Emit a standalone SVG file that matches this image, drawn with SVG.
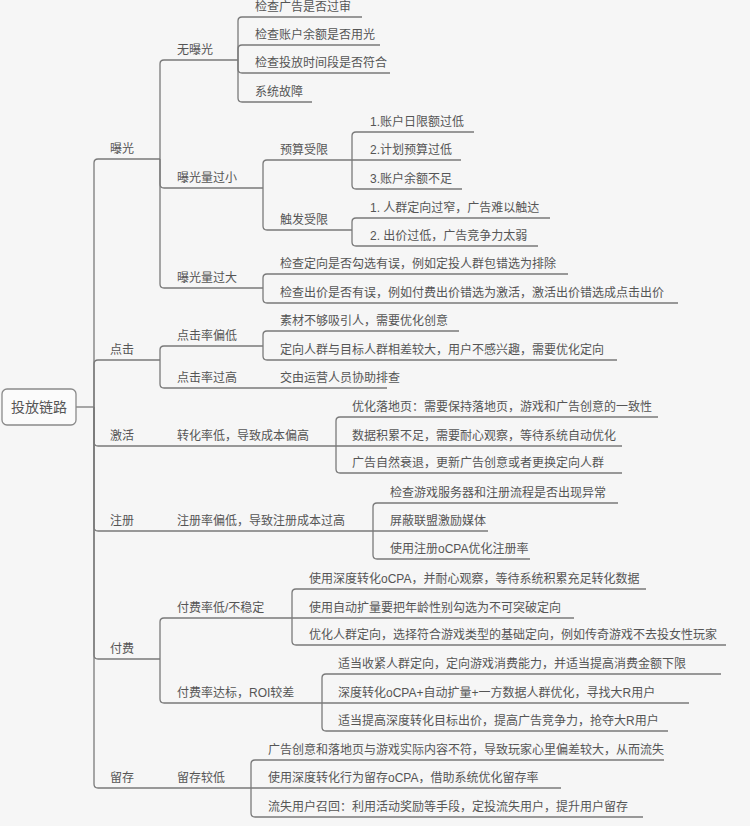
<svg xmlns="http://www.w3.org/2000/svg" width="750" height="826" viewBox="0 0 750 826">
<style>
.c{fill:none;stroke:#7a7a7a;stroke-width:1.3}
text{font-family:"Liberation Sans","Noto Sans CJK SC",sans-serif;font-size:12px;fill:#555}
</style>
<rect width="750" height="826" fill="#f6f6f6"/>
<g id="connectors" class="c">
<path d="M76 407H94"/>
<path d="M94 407V163Q94 159 98 159H160"/>
<path d="M94 407V364Q94 360 98 360H160"/>
<path d="M94 407V442Q94 446 98 446H336"/>
<path d="M94 407V527Q94 531 98 531H373"/>
<path d="M94 407V655Q94 659 98 659H160"/>
<path d="M94 407V784Q94 788 98 788H251"/>
<path d="M160 159V64Q160 60 164 60H238"/>
<path d="M160 159V184Q160 188 164 188H263"/>
<path d="M160 159V284Q160 288 164 288H263"/>
<path d="M238 60V21Q238 17 242 17H362"/>
<path d="M238 60V49Q238 45 242 45H380"/>
<path d="M238 60V69Q238 73 242 73H390"/>
<path d="M238 60V98Q238 102 242 102H312"/>
<path d="M263 188V164Q263 160 267 160H352"/>
<path d="M263 188V226Q263 230 267 230H352"/>
<path d="M352 160V136Q352 132 356 132H474"/>
<path d="M352 160H461"/>
<path d="M352 160V185Q352 189 356 189H462"/>
<path d="M352 230V222Q352 218 356 218H550"/>
<path d="M352 230V242Q352 246 356 246H538"/>
<path d="M263 288V278Q263 274 267 274H568"/>
<path d="M263 288V299Q263 303 267 303H678"/>
<path d="M160 360V350Q160 346 164 346H263"/>
<path d="M160 360V384Q160 388 164 388H387"/>
<path d="M263 346V335Q263 331 267 331H459"/>
<path d="M263 346V356Q263 360 267 360H617"/>
<path d="M336 446V421Q336 417 340 417H658"/>
<path d="M336 446H622"/>
<path d="M336 446V469Q336 473 340 473H622"/>
<path d="M373 531V507Q373 503 377 503H618"/>
<path d="M373 531H488"/>
<path d="M373 531V555Q373 559 377 559H530"/>
<path d="M160 659V622Q160 618 164 618H292"/>
<path d="M160 659V699Q160 703 164 703H322"/>
<path d="M292 618V593Q292 589 296 589H646"/>
<path d="M292 618H574"/>
<path d="M292 618V641Q292 645 296 645H726"/>
<path d="M322 703V678Q322 674 326 674H721"/>
<path d="M322 703H689"/>
<path d="M322 703V727Q322 731 326 731H668"/>
<path d="M251 788V764Q251 760 255 760H664"/>
<path d="M251 788H561"/>
<path d="M251 788V813Q251 817 255 817H643"/>
</g>
<g id="root"><rect x="2" y="389" width="74" height="36" rx="5" fill="#fbfbfb" stroke="#8a8a8a" stroke-width="1.3"/><text x="39" y="412" text-anchor="middle" style="font-size:14px">投放链路</text></g>
<g id="n1"><text x="110" y="153">曝光</text></g>
<g id="n2"><text x="110" y="354">点击</text></g>
<g id="n3"><text x="110" y="440">激活</text></g>
<g id="n4"><text x="110" y="525">注册</text></g>
<g id="n5"><text x="110" y="653">付费</text></g>
<g id="n6"><text x="110" y="782">留存</text></g>
<g id="n1a"><text x="177" y="54">无曝光</text></g>
<g id="n1b"><text x="177" y="182">曝光量过小</text></g>
<g id="n1c"><text x="177" y="282">曝光量过大</text></g>
<g id="n1a1"><text x="255" y="11">检查广告是否过审</text></g>
<g id="n1a2"><text x="255" y="39">检查账户余额是否用光</text></g>
<g id="n1a3"><text x="255" y="67">检查投放时间段是否符合</text></g>
<g id="n1a4"><text x="255" y="96">系统故障</text></g>
<g id="n1b1"><text x="280" y="154">预算受限</text></g>
<g id="n1b2"><text x="280" y="224">触发受限</text></g>
<g id="n1b1a"><text x="370" y="126">1.账户日限额过低</text></g>
<g id="n1b1b"><text x="370" y="154">2.计划预算过低</text></g>
<g id="n1b1c"><text x="370" y="183">3.账户余额不足</text></g>
<g id="n1b2a"><text x="370" y="212">1. 人群定向过窄，广告难以触达</text></g>
<g id="n1b2b"><text x="370" y="240">2. 出价过低，广告竞争力太弱</text></g>
<g id="n1c1"><text x="280" y="268">检查定向是否勾选有误，例如定投人群包错选为排除</text></g>
<g id="n1c2"><text x="280" y="297">检查出价是否有误，例如付费出价错选为激活，激活出价错选成点击出价</text></g>
<g id="n2a"><text x="177" y="340">点击率偏低</text></g>
<g id="n2b"><text x="177" y="382">点击率过高</text></g>
<g id="n2a1"><text x="280" y="325">素材不够吸引人，需要优化创意</text></g>
<g id="n2a2"><text x="280" y="354">定向人群与目标人群相差较大，用户不感兴趣，需要优化定向</text></g>
<g id="n2b1"><text x="280" y="382">交由运营人员协助排查</text></g>
<g id="n3a"><text x="177" y="440">转化率低，导致成本偏高</text></g>
<g id="n3a1"><text x="352" y="411">优化落地页：需要保持落地页，游戏和广告创意的一致性</text></g>
<g id="n3a2"><text x="352" y="440">数据积累不足，需要耐心观察，等待系统自动优化</text></g>
<g id="n3a3"><text x="352" y="467">广告自然衰退，更新广告创意或者更换定向人群</text></g>
<g id="n4a"><text x="177" y="525">注册率偏低，导致注册成本过高</text></g>
<g id="n4a1"><text x="390" y="497">检查游戏服务器和注册流程是否出现异常</text></g>
<g id="n4a2"><text x="390" y="525">屏蔽联盟激励媒体</text></g>
<g id="n4a3"><text x="390" y="553">使用注册oCPA优化注册率</text></g>
<g id="n5a"><text x="177" y="612">付费率低/不稳定</text></g>
<g id="n5b"><text x="177" y="697">付费率达标，ROI较差</text></g>
<g id="n5a1"><text x="309" y="583">使用深度转化oCPA，并耐心观察，等待系统积累充足转化数据</text></g>
<g id="n5a2"><text x="309" y="612">使用自动扩量要把年龄性别勾选为不可突破定向</text></g>
<g id="n5a3"><text x="309" y="639">优化人群定向，选择符合游戏类型的基础定向，例如传奇游戏不去投女性玩家</text></g>
<g id="n5b1"><text x="338" y="668">适当收紧人群定向，定向游戏消费能力，并适当提高消费金额下限</text></g>
<g id="n5b2"><text x="338" y="697">深度转化oCPA+自动扩量+一方数据人群优化，寻找大R用户</text></g>
<g id="n5b3"><text x="338" y="725">适当提高深度转化目标出价，提高广告竞争力，抢夺大R用户</text></g>
<g id="n6a"><text x="177" y="782">留存较低</text></g>
<g id="n6a1"><text x="268" y="754">广告创意和落地页与游戏实际内容不符，导致玩家心里偏差较大，从而流失</text></g>
<g id="n6a2"><text x="268" y="782">使用深度转化行为留存oCPA，借助系统优化留存率</text></g>
<g id="n6a3"><text x="268" y="811">流失用户召回：利用活动奖励等手段，定投流失用户，提升用户留存</text></g>
</svg>
